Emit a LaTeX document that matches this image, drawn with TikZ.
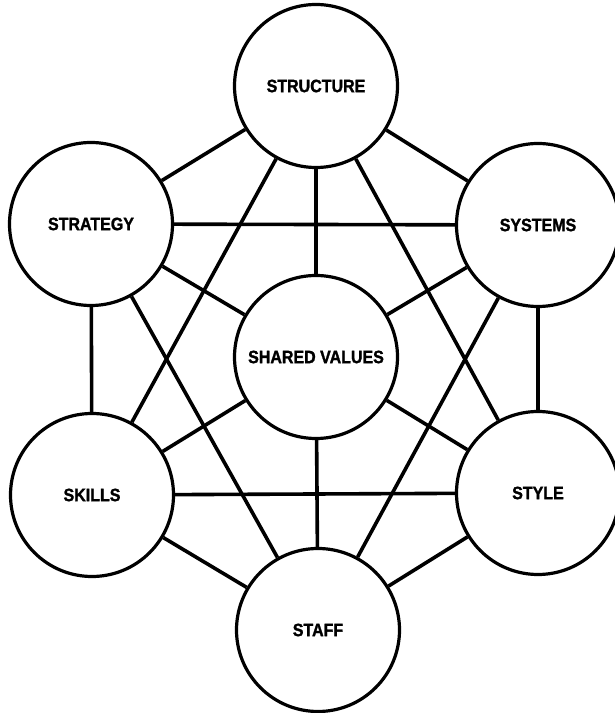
\documentclass[tikz,border=0pt]{standalone}
\usepackage{fontspec}
\setmainfont{Liberation Sans}
\newfontfamily\heavyfont[BoldFont={Liberation Sans Bold},BoldFeatures={FakeBold=1.6}]{Liberation Sans}
\usepackage{graphicx}
\begin{document}
\begin{tikzpicture}[x=1pt,y=1pt,
  sev/.style={circle,draw,line width=3.2pt,minimum size=163pt,inner sep=0pt,
    font=\heavyfont\fontsize{16}{18}\selectfont\bfseries},
  link/.style={line width=3.6pt}]
\useasboundingbox (0,0) rectangle (614,713);
\fill[white] (0,0) rectangle (614,713);
\node[sev] (structure) at (316,627) {\scalebox{1}[1.12]{STRUCTURE}};
\node[sev] (strategy)  at (91,489)  {\scalebox{1}[1.12]{STRATEGY}};
\node[sev] (systems)   at (538,488) {\scalebox{1}[1.12]{SYSTEMS}};
\node[sev] (shared)    at (316,356) {\scalebox{1}[1.12]{SHARED VALUES}};
\node[sev] (skills)    at (92,218)  {\scalebox{1}[1.12]{SKILLS}};
\node[sev] (style)     at (538,220) {\scalebox{1}[1.12]{STYLE}};
\node[sev] (staff)     at (318,83)  {\scalebox{1}[1.12]{STAFF}};
\foreach \a/\b in {structure/strategy,structure/systems,structure/shared,
  structure/skills,structure/style,strategy/systems,strategy/shared,
  strategy/skills,strategy/staff,systems/shared,systems/style,systems/staff,
  skills/shared,skills/style,skills/staff,style/shared,style/staff,shared/staff}
  \draw[link] (\a) -- (\b);
\end{tikzpicture}
\end{document}
